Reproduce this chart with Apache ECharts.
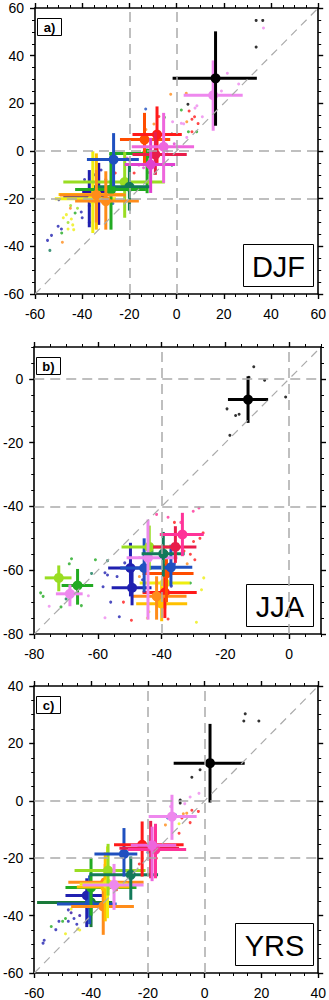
<!DOCTYPE html>
<html><head><meta charset="utf-8">
<script src="https://cdn.jsdelivr.net/npm/echarts@6/dist/echarts.min.js"></script>
<style>html,body{margin:0;padding:0;background:#fff}#c{width:329px;height:1000px}</style>
</head><body><div id="c"></div>
<script>
// ---------------- DATA ----------------
const panelNames = ['a)', 'b)', 'c)'];
const seasonNames = ['DJF', 'JJA', 'YRS'];
const axisRanges = [[-60, 60], [-80, 10], [-60, 40]];
const tickLabels = [[-60, -40, -20, 0, 20, 40, 60], [-80, -60, -40, -20, 0], [-60, -40, -20, 0, 20, 40]];
const refLines = [[-20, 0], [-40, 0], [-20, 0]];

// crosses: [model, x, y, xLow, xHigh, yLow, yHigh]
const djfCross = [
  ['navy', -37, -19, -48, -30, -32, -8],
  ['indigo', -33, -17, -40, -26, -31, -5],
  ['yellow', -35.5, -20, -51.6, -25.7, -34.4, -0.1],
  ['gold', -34, -18.3, -50, -22, -33, -1],
  ['green', -12.5, -1, -28.5, -12.5, -17.7, -1],
  ['yellowgreen', -22, -13, -48, -5, -28, -0.5],
  ['teal', -20, -15, -35, -11, -25, -5],
  ['green', -27.8, -16.2, -43, -13, -33, -1],
  ['orange', -34, -18.5, -49.5, -21.5, -30, -8],
  ['orange', -30, -21, -43, -16, -33, -8.5],
  ['blue', -26.7, -3.6, -38, -16, -14.8, 7.5],
  ['orangered', -13.6, 4.8, -24, -2.7, -5, 16],
  ['red', -8.3, 6.9, -18.7, 2.2, -5, 18.7],
  ['crimson', -9, -1.5, -18.7, 4.3, -10, 8],
  ['magenta', -11, -5.7, -22, -0.6, -17.6, 5.5],
  ['pink', -5.5, 1.8, -19, 7.4, -13.4, 16],
  ['violet', 15.5, 23.4, 3, 28, 8.5, 38],
  ['black', 16.5, 30.5, -1.7, 34, 10.6, 50.2]
];
const jjaCross = [
  ['gold', -40, -70.5, -48, -32, -76, -64],
  ['yellow', -39, -64, -46.9, -31.2, -72, -57],
  ['red', -39, -67, -46, -29, -75, -58],
  ['orange', -41.6, -68.2, -49.5, -32.2, -75.5, -61.9],
  ['orangered', -38.5, -61, -46, -30, -70, -54],
  ['navy', -49.3, -65.5, -55.7, -43.2, -71, -60],
  ['navy', -49.8, -59.3, -56.8, -43.2, -68.2, -51.4],
  ['blue', -45.5, -59.3, -53, -38, -67, -50],
  ['blue', -37.1, -59.1, -43.9, -30.4, -65, -52],
  ['yellowgreen', -43.9, -52.7, -52.6, -35.4, -60, -46],
  ['violet', -44.3, -56.1, -51, -35, -75.5, -44.1],
  ['teal', -39.5, -54.8, -46.3, -32.8, -62, -48],
  ['crimson', -35.7, -52.7, -42.7, -29.1, -57.7, -46.2],
  ['deeppink', -33.5, -48.8, -40.6, -26.8, -55.6, -42],
  ['yellowgreen', -72.3, -62.4, -76.7, -68.3, -66.6, -58.5],
  ['green', -66.4, -64.8, -71.4, -61.5, -70.8, -59.6],
  ['violet', -68.8, -67.4, -73.2, -64.8, -71.3, -64.5],
  ['black', -12.9, -6.5, -19.2, -6.6, -13.8, 0.8]
];
const yrsCross = [
  ['darkgreen', -40, -35.4, -59, -32.5, -44, -28],
  ['navy', -41.5, -33, -49, -36, -44, -27],
  ['blue', -40.5, -36, -52, -31, -43, -26],
  ['green', -40, -30.2, -49, -24, -40, -20],
  ['orange', -35.7, -36.8, -47, -24.9, -46.7, -27],
  ['orange', -35, -28.4, -48, -21.5, -35, -22],
  ['gold', -35, -30, -45, -26, -42, -18],
  ['yellow', -34.2, -29, -44, -27, -40.9, -15.9],
  ['yellowgreen', -34, -24.3, -45.8, -20.8, -33, -15],
  ['violet', -31.9, -29.3, -43, -21.5, -38, -22],
  ['teal', -26, -25.8, -40.6, -16.4, -34.5, -19.4],
  ['blue', -28.4, -18.5, -38.8, -23.7, -26.4, -9.5],
  ['red', -22, -15.3, -31.9, -7.4, -26.4, -7.2],
  ['crimson', -19, -16.5, -30, -9, -27, -7],
  ['deeppink', -17.3, -17, -27, -6.5, -27, -8],
  ['pink', -18.5, -15.5, -26, -10, -28, -9],
  ['violet', -11.5, -5.5, -19.7, -2.8, -13.6, 2.1],
  ['black', 1.9, 13.1, -10.9, 14.1, -0.6, 26.8]
];

// small member dots: [model, x, y]
const djfDots = [
  ['black', 33.7, 54.8], ['black', 36.5, 54.8], ['black', 33.7, 43.6], ['black', 4.8, 19.6], ['black', -2, 7.1], ['black', -8, 6],
  ['violet', 36.8, 51.6], ['violet', 21.5, 32.6], ['violet', 26.3, 28.1], ['violet', 19, 25.2], ['violet', 8.6, 19], ['violet', 7.8, 18],
  ['violet', 10.9, 14.4], ['violet', -1.7, 12.3], ['violet', 2, 11.6], ['violet', 3, 11.4], ['violet', 4.3, 5.7],
  ['red', 5.3, 16.8], ['red', 7.6, 14.4], ['red', 6.5, 13.3], ['red', 9.1, 11.5], ['red', 6.5, 8.1], ['red', -7.5, 14.5], ['red', -26, -9.2], ['red', -18, -9.2],
  ['orange', -2.5, 23.8], ['orange', 4.1, 24.2], ['orange', 4.3, 12.3], ['orange', -9.6, 11.3], ['orange', -13, 9],
  ['blue', -13.1, 17.6], ['blue', -27, -22], ['blue', -30, -12],
  ['green', 2, 17.2], ['green', -5.2, 14.1], ['green', 8.5, 8.1], ['green', 5, 8.1], ['green', -20, -7], ['green', -43, -26], ['green', -48.7, -34.4],
  ['teal', -53.7, -41.7], ['teal', -2, -6],
  ['navy', -54.7, -37.5], ['navy', -53, -35.4], ['navy', -50.2, -31.6], ['navy', -48.8, -32.7], ['navy', -49.9, -20.4], ['navy', -40.4, -25.6],
  ['navy', -39, -12], ['navy', -40, -28], ['navy', -37, -30], ['navy', -35, -10], ['navy', -32, -8], ['navy', -37, -23],
  ['yellow', -46.7, -26.7], ['yellow', -44.6, -28.5], ['yellow', -46, -32.7], ['yellow', -43.6, -33], ['yellow', -44, -31], ['yellow', -48, -28],
  ['yellowgreen', -44.9, -22.9], ['yellowgreen', -42, -24], ['yellowgreen', -46, -30],
  ['orange', -48.4, -38.3], ['orange', -45, -24],
  ['magenta', -1, 3], ['magenta', -4, 0], ['magenta', -14, -7], ['magenta', -12, -9], ['magenta', -21, -3],
  ['pink', -20, -4], ['pink', -16, -6]
];
const jjaDots = [
  ['black', -11.1, 3.8], ['black', -12.6, 0.5], ['black', -7.7, -0.4], ['black', -1.1, -5.7], ['black', -19.5, -9.4],
  ['black', -16.8, -11.5], ['black', -15.7, -11.1], ['black', -18.6, -17.7],
  ['green', -68.3, -56.4], ['green', -69, -58], ['green', -78, -67.1], ['green', -77.2, -68.2], ['green', -71.6, -71.5],
  ['green', -65.2, -71.1], ['green', -60.8, -56.7], ['green', -43, -54], ['green', -31, -64],
  ['teal', -70, -69], ['teal', -57, -57], ['teal', -62, -61],
  ['violet', -75.3, -71.3], ['violet', -57.8, -74.9], ['violet', -63, -68], ['violet', -47, -56],
  ['navy', -57.8, -60.8], ['navy', -57, -61.5], ['navy', -58.4, -65.2], ['navy', -53.3, -74.6], ['navy', -56, -70],
  ['navy', -51.6, -57.7], ['navy', -54, -62], ['navy', -46, -63], ['navy', -37, -65], ['navy', -36, -58],
  ['deeppink', -28.3, -40.5], ['deeppink', -30.1, -41.5], ['deeppink', -38, -43.4], ['deeppink', -41.6, -42.5], ['deeppink', -34, -45],
  ['red', -27, -48.3], ['red', -30, -51], ['red', -29.6, -56.7], ['red', -31, -55], ['red', -36, -45], ['red', -28, -50],
  ['orange', -38, -60], ['orange', -32, -58], ['orange', -47, -62],
  ['yellow', -26.8, -62.4], ['yellow', -27.5, -66.1], ['yellow', -29.1, -76.3], ['yellow', -44.5, -75], ['yellow', -44, -73],
  ['red', -49.5, -75.7], ['red', -38, -75.3], ['red', -52, -70], ['red', -33, -54]
];
const yrsDots = [
  ['black', 14.3, 30.3], ['black', 13.8, 27.8], ['black', 19.1, 27.8], ['black', -1.6, 10.8], ['black', -4.5, 8.2], ['black', -8.6, 0.3], ['black', -8.6, -0.8],
  ['violet', -2, 2.6], ['violet', -5.1, 1.3], ['violet', -7, -1], ['violet', -12, -2],
  ['red', -2.2, -3.7], ['red', -4.5, -3.3], ['red', -5.1, -7.6], ['red', -9, -11.3], ['red', -8, -6], ['red', -17, -20], ['red', -23, -22], ['red', -31, -31],
  ['orange', -6.3, -4.3], ['orange', -7.5, -4.5], ['orange', -13.8, -8.4], ['orange', -22, -20],
  ['blue', -10.3, -4.9], ['blue', -13, -6], ['blue', -20, -18],
  ['yellow', -9, -8], ['yellow', -47, -37.7], ['yellow', -49, -46.3], ['yellow', -44.7, -44.7], ['yellow', -44, -45],
  ['navy', -56.9, -49.6], ['navy', -56.5, -48.6], ['navy', -52.4, -44.9], ['navy', -51.3, -42], ['navy', -48, -42], ['navy', -46, -41], ['navy', -45, -43], ['navy', -48, -38],
  ['green', -54, -43.8], ['green', -49, -41], ['green', -50, -42], ['green', -46, -36],
  ['indigo', -47, -39], ['indigo', -44, -40]
];

// ---------------- STYLE ----------------
const palette = {
  black: '#000000', violet: '#EE88EE', pink: '#EE66DD', magenta: '#E040D0', deeppink: '#FF3399',
  crimson: '#E81D4A', red: '#FF1A1A', orangered: '#FF4D00', orange: '#FF8C1A', gold: '#FFC000',
  yellow: '#EEEE10', yellowgreen: '#99DD22', green: '#22AA22', teal: '#137A5A', darkgreen: '#1A7A3A',
  blue: '#1F50C0', navy: '#2020B0', indigo: '#3010A0'
};
const grids = [
  { left: 35, top: 8, width: 286, height: 286 },
  { left: 34, top: 347, width: 287, height: 287 },
  { left: 34, top: 686, width: 287, height: 287 }
];
const FONT = 'Liberation Sans';
const crossSets = [djfCross, jjaCross, yrsCross];
const dotSets = [djfDots, jjaDots, yrsDots];

const xAxes = [], yAxes = [], series = [], graphics = [];
grids.forEach((g, p) => {
  const [mn, mx] = axisRanges[p];
  const ticks = tickLabels[p];
  const mk = (isX, pos, major) => ({
    type: 'value', gridIndex: p, position: pos, min: mn, max: mx,
    interval: major ? 20 : 5,
    axisLine: { show: major, onZero: false, lineStyle: { color: '#000', width: 1.6 } },
    axisTick: major ? { show: true, inside: false, length: 5, customValues: ticks, lineStyle: { color: '#000', width: 1.4 } }
                    : { show: true, inside: false, length: 3, lineStyle: { color: '#000', width: 1 } },
    axisLabel: (major && (pos === 'bottom' || pos === 'left')) ? {
      show: true, showMaxLabel: true, showMinLabel: true, hideOverlap: false, color: '#000', fontFamily: FONT, fontSize: 14,
      margin: isX ? 13 : 11, formatter: v => (ticks.indexOf(v) >= 0 ? String(v) : '')
    } : { show: false },
    splitLine: { show: false }
  });
  xAxes.push(mk(true, 'bottom', true), mk(true, 'bottom', false), mk(true, 'top', true), mk(true, 'top', false));
  yAxes.push(mk(false, 'left', true), mk(false, 'left', false), mk(false, 'right', true), mk(false, 'right', false));
  const xi = 4 * p, yi = 4 * p;
  const dash = { type: [10, 6], color: '#AAAAAA', width: 1.5 };
  series.push({
    type: 'line', xAxisIndex: xi, yAxisIndex: yi, data: [], silent: true,
    markLine: {
      silent: true, symbol: 'none', animation: false, label: { show: false },
      lineStyle: dash,
      data: [
        ...refLines[p].map(v => ({ xAxis: v })),
        ...refLines[p].map(v => ({ yAxis: v })),
        [{ coord: [mn, mn], lineStyle: { type: [8, 6], width: 1.2, color: '#AAAAAA' } }, { coord: [mx, mx] }]
      ]
    }
  });
  series.push({
    type: 'scatter', xAxisIndex: xi, yAxisIndex: yi, symbolSize: 3, z: 3, animation: false,
    data: dotSets[p].map(d => ({ value: [d[1], d[2]], itemStyle: { color: palette[d[0]] } }))
  });
  const cs = crossSets[p];
  series.push({
    type: 'custom', xAxisIndex: xi, yAxisIndex: yi, z: 4, animation: false,
    data: cs.map(d => d.slice(1)),
    renderItem: (params, api) => {
      const col = palette[cs[params.dataIndex][0]];
      const x = api.value(0), y = api.value(1);
      const c = api.coord([x, y]);
      const l = api.coord([api.value(2), y]), r = api.coord([api.value(3), y]);
      const b = api.coord([x, api.value(4)]), t = api.coord([x, api.value(5)]);
      const st = { stroke: col, lineWidth: 3 };
      return {
        type: 'group', children: [
          { type: 'line', shape: { x1: l[0], y1: l[1], x2: r[0], y2: r[1] }, style: st },
          { type: 'line', shape: { x1: b[0], y1: b[1], x2: t[0], y2: t[1] }, style: st },
          { type: 'circle', shape: { cx: c[0], cy: c[1], r: 5 }, style: { fill: col } }
        ]
      };
    }
  });
  // panel letter box
  graphics.push({
    type: 'group', left: g.left + 2, top: g.top + 10, children: [
      { type: 'rect', shape: { x: 0, y: 0, width: 24, height: 17 }, style: { fill: '#fff', stroke: '#000', lineWidth: 1 } },
      { type: 'text', x: 12, y: 9, style: { text: panelNames[p], font: 'bold 13px ' + FONT, fill: '#000', align: 'center', verticalAlign: 'middle' } }
    ]
  });
  const bw = p === 2 ? 78 : (p === 1 ? 67 : 70);
  graphics.push({
    type: 'group', left: g.left + g.width - 8 - bw, top: g.top + g.height - 8 - 42, children: [
      { type: 'rect', shape: { x: 0, y: 0, width: bw, height: 42 }, style: { fill: '#fff', stroke: '#000', lineWidth: 1 } },
      { type: 'text', x: bw / 2, y: 22, style: { text: seasonNames[p], font: '29px ' + FONT, fill: '#000', align: 'center', verticalAlign: 'middle' } }
    ]
  });
});

const chart = echarts.init(document.getElementById('c'), null, { renderer: 'svg', width: 329, height: 1000 });
chart.setOption({
  animation: false,
  backgroundColor: '#fff',
  grid: grids,
  xAxis: xAxes,
  yAxis: yAxes,
  series: series,
  graphic: graphics
});
</script></body></html>
